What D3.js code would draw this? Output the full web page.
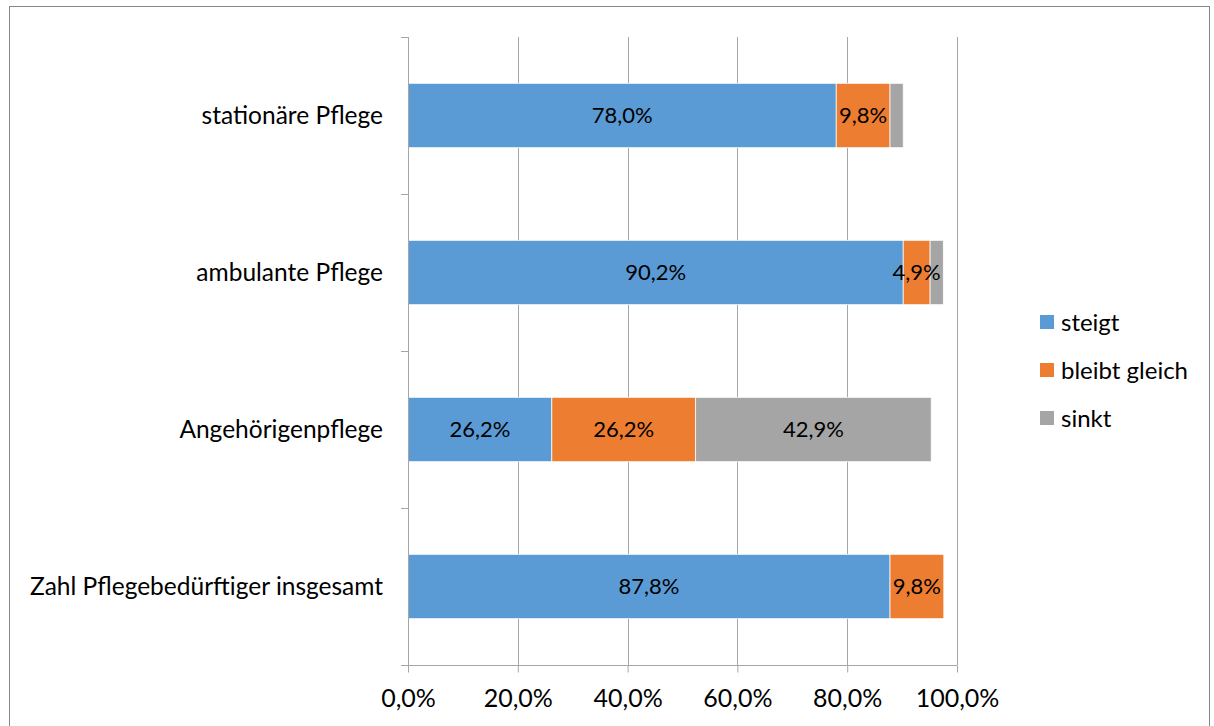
<!DOCTYPE html>
<html>
<head>
<meta charset="utf-8">
<script src="https://cdn.jsdelivr.net/npm/d3@7"></script>
<style>
  html, body { margin: 0; padding: 0; background: #fff; }
  svg { display: block; font-family: Lato, "Open Sans", sans-serif; }
</style>
</head>
<body>
<svg id="chart" width="1214" height="726"></svg>
<script>
// Categories, top to bottom
const categories = [
  "stationäre Pflege",
  "ambulante Pflege",
  "Angehörigenpflege",
  "Zahl Pflegebedürftiger insgesamt"
];
// Series (share of answers, %)
const seriesNames = ["steigt", "bleibt gleich", "sinkt"];
const steigt = [78.0, 90.2, 26.2, 87.8];
const bleibtGleich = [9.8, 4.9, 26.2, 9.8];
const sinkt = [2.4, 2.4, 42.9, 0.0];
// Which segments carry a value label
const showLabel = [
  [true, true, false],
  [true, true, false],
  [true, true, true],
  [true, true, false]
];
const xTicks = [0, 20, 40, 60, 80, 100];
const colors = ["#5B9BD5", "#ED7D31", "#A5A5A5"];

const svg = d3.select("#chart");
const fmt = v => v.toFixed(1).replace(".", ",") + "%";

// chart frame
svg.append("rect")
  .attr("x", 9.5).attr("y", 6.5)
  .attr("width", 1200).attr("height", 740)
  .attr("fill", "none").attr("stroke", "#868686").attr("stroke-width", 1);

const plot = { left: 408, right: 957, top: 37, bottom: 665 };

const x = d3.scaleLinear().domain([0, 100]).range([plot.left, plot.right]);
const y = d3.scaleBand().domain(categories).range([plot.top, plot.bottom]).paddingInner(0.59).paddingOuter(0.295);

// vertical gridlines
svg.append("g").selectAll("line")
  .data(xTicks.slice(1))
  .join("line")
  .attr("x1", d => Math.round(x(d)) + 0.5).attr("x2", d => Math.round(x(d)) + 0.5)
  .attr("y1", plot.top).attr("y2", plot.bottom)
  .attr("stroke", "#a6a6a6").attr("stroke-width", 1);

// stacked data
const rows = categories.map((c, i) => ({ cat: c, vals: [steigt[i], bleibtGleich[i], sinkt[i]], idx: i }));
const segs = [];
rows.forEach(r => {
  let acc = 0;
  r.vals.forEach((v, k) => {
    segs.push({ cat: r.cat, k, x0: acc, x1: acc + v, v, label: showLabel[r.idx][k] });
    acc += v;
  });
});

svg.append("g").selectAll("rect")
  .data(segs.filter(s => s.v > 0))
  .join("rect")
  .attr("x", d => x(d.x0))
  .attr("y", d => y(d.cat))
  .attr("width", d => x(d.x1) - x(d.x0))
  .attr("height", y.bandwidth())
  .attr("fill", d => colors[d.k])
  .attr("stroke", "#fff").attr("stroke-width", 0.75);

svg.append("g").selectAll("text")
  .data(segs.filter(s => s.label && s.v > 0))
  .join("text")
  .attr("x", d => (x(d.x0) + x(d.x1)) / 2)
  .attr("y", d => y(d.cat) + y.bandwidth() / 2)
  .attr("dy", "0.36em")
  .attr("text-anchor", "middle")
  .attr("font-size", 22)
  .attr("fill", "#000")
  .text(d => fmt(d.v));

// y axis
const yAxisG = svg.append("g");
yAxisG.append("line")
  .attr("x1", plot.left + 0.5).attr("x2", plot.left + 0.5)
  .attr("y1", plot.top).attr("y2", plot.bottom)
  .attr("stroke", "#a6a6a6");
const yTickPos = d3.range(categories.length + 1).map(i => plot.top + i * (plot.bottom - plot.top) / categories.length);
yAxisG.selectAll("line.tick")
  .data(yTickPos)
  .join("line").attr("class", "tick")
  .attr("x1", plot.left - 7).attr("x2", plot.left)
  .attr("y1", d => Math.round(d) + 0.5).attr("y2", d => Math.round(d) + 0.5)
  .attr("stroke", "#a6a6a6");
yAxisG.selectAll("text")
  .data(categories)
  .join("text")
  .attr("x", plot.left - 25)
  .attr("y", d => y(d) + y.bandwidth() / 2)
  .attr("dy", "0.36em")
  .attr("text-anchor", "end")
  .attr("font-size", 24.5)
  .attr("fill", "#000")
  .text(d => d);

// x axis
const xAxis = d3.axisBottom(x).tickValues(xTicks).tickSize(7).tickFormat(fmt);
const xAxisG = svg.append("g").attr("transform", `translate(0,${plot.bottom + 0.5})`).call(xAxis);
xAxisG.select(".domain").remove();
xAxisG.append("line").attr("x1", plot.left - 7).attr("x2", plot.right).attr("stroke", "#a6a6a6");
xAxisG.selectAll(".tick line").attr("stroke", "#a6a6a6");
xAxisG.selectAll(".tick text")
  .attr("font-size", 25).attr("font-family", "Lato, 'Open Sans', sans-serif")
  .attr("fill", "#000").attr("y", 32).attr("dy", "0.36em");

// legend
const legend = svg.append("g").attr("transform", "translate(1040,322)");
const li = legend.selectAll("g").data(seriesNames).join("g")
  .attr("transform", (d, i) => `translate(0,${i * 48})`);
li.append("rect").attr("x", 0).attr("y", -7).attr("width", 14).attr("height", 14)
  .attr("fill", (d, i) => colors[i]);
li.append("text").attr("x", 21).attr("y", 0).attr("dy", "0.36em")
  .attr("font-size", 24).attr("fill", "#000").text(d => d);
</script>
</body>
</html>
